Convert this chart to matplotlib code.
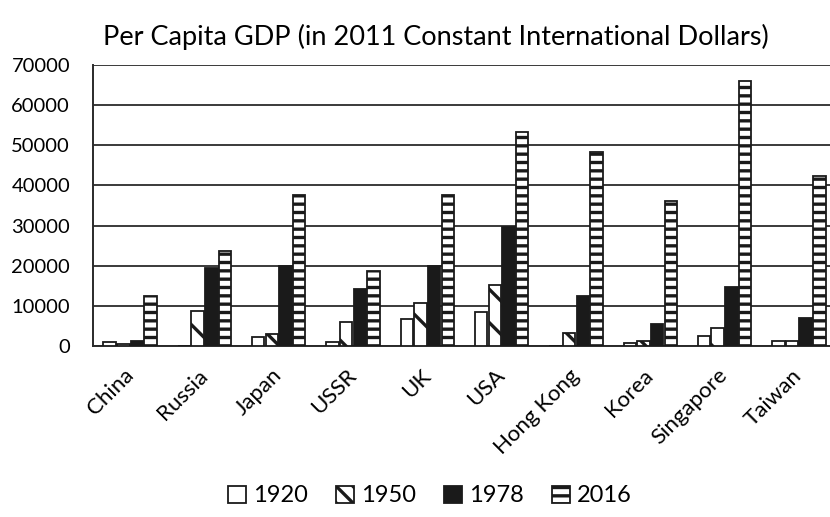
import matplotlib
matplotlib.use("Agg")
import matplotlib.pyplot as plt
import numpy as np
from matplotlib.patches import Patch

plt.rcParams['font.family'] = ['Lato', 'DejaVu Sans']
plt.rcParams['hatch.linewidth'] = 2.4

countries = ["China", "Russia", "Japan", "USSR", "UK", "USA", "Hong Kong", "Korea", "Singapore", "Taiwan"]
years = ["1920", "1950", "1978", "2016"]
gdp_1920 = [900, 0, 2300, 1100, 6700, 8400, 0, 800, 2500, 1200]
gdp_1950 = [500, 8700, 2900, 5900, 10800, 15200, 3300, 1200, 4500, 1200]
gdp_1978 = [1300, 19400, 19900, 14100, 19900, 29700, 12500, 5600, 14800, 6900]
gdp_2016 = [12500, 23600, 37500, 18700, 37500, 53400, 48400, 36200, 66100, 42300]
yticks = [0, 10000, 20000, 30000, 40000, 50000, 60000, 70000]

series = [gdp_1920, gdp_1950, gdp_1978, gdp_2016]
fills = ["white", "white", "#1a1a1a", "white"]
hatches = [None, "\\", None, "--"]
legend_hatches = [None, "\\\\", None, "--"]

fig = plt.figure(figsize=(8.30, 5.17), dpi=100)
ax = fig.add_axes([93/830, 1-346/517, 743/830, 281/517])

x = np.arange(len(countries))
step = 0.184
width = 0.168
for i, (vals, fc, h) in enumerate(zip(series, fills, hatches)):
    ax.bar(x + (i - 1.5) * step, vals, width, facecolor=fc, edgecolor="#1a1a1a",
           linewidth=1.3, hatch=h, zorder=3)

ax.set_xlim(-0.5, len(countries) - 0.5)
ax.set_ylim(0, 70000)
ax.set_yticks(yticks)
ax.set_yticklabels([str(v) for v in yticks], fontsize=14.5)
ax.yaxis.grid(True, color="#3a3a3a", linewidth=1.4, zorder=0)
ax.set_axisbelow(True)
ax.tick_params(axis='y', length=0, pad=16.5)
ax.tick_params(axis='x', length=0, pad=19)
ax.set_xticks(x)
ax.set_xticklabels(countries, rotation=45, ha='right', va='center',
                   rotation_mode='anchor', fontsize=16)
for s in ["top", "right"]:
    ax.spines[s].set_visible(False)
for s in ["left", "bottom"]:
    ax.spines[s].set_color("#2a2a2a")
    ax.spines[s].set_linewidth(1.4)

fig.text(436/830, 1-37/517, "Per Capita GDP (in 2011 Constant International Dollars)",
         ha='center', va='center', fontsize=19.5)

handles = [Patch(facecolor=fc, edgecolor="#1a1a1a", hatch=h, linewidth=1.3)
           for fc, h in zip(fills, legend_hatches)]
fig.legend(handles, years, loc='center', bbox_to_anchor=(430/830, 1-496/517), ncol=4,
           frameon=False, fontsize=17, handlelength=0.75, handleheight=0.75,
           handletextpad=0.3, columnspacing=1.2)

fig.savefig("out.png", dpi=100)
